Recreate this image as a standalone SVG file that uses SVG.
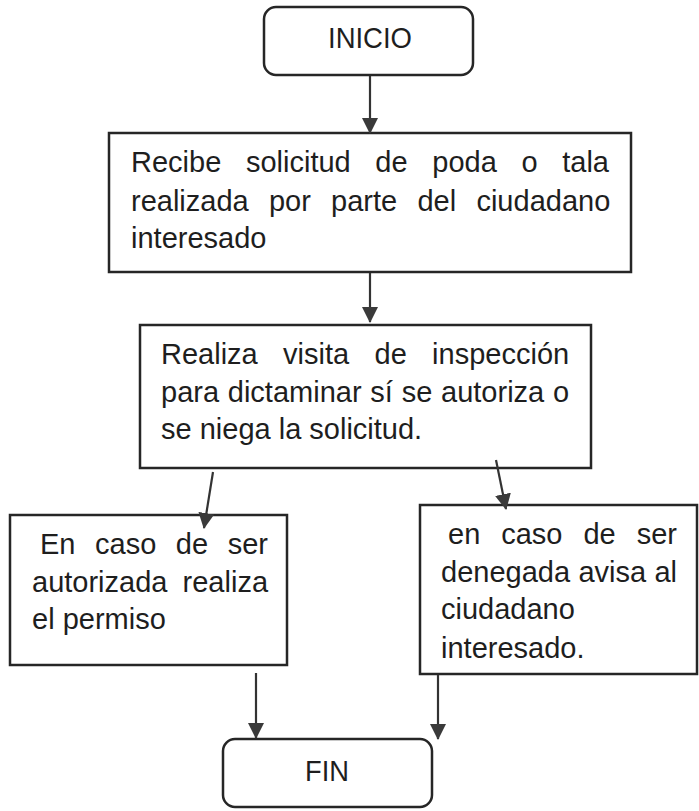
<svg xmlns="http://www.w3.org/2000/svg" width="699" height="811" viewBox="0 0 699 811">
<defs>
<marker id="arr" markerUnits="userSpaceOnUse" markerWidth="16" markerHeight="16" viewBox="0 0 16 16" refX="15" refY="8" orient="auto">
<path d="M0,0 L16,8 L0,16 Z" fill="#3a3a3a"/>
</marker>
<style>
.box{fill:#fff;stroke:#262626;stroke-width:2.5}
.t{font-family:"Liberation Sans",Arial,sans-serif;font-size:29px;fill:#1e1e1e}
.c{stroke:#333;stroke-width:2.2;fill:none;marker-end:url(#arr)}
</style>
</defs>
<rect width="699" height="811" fill="#fff"/>
<g id="inicio">
<rect class="box" x="264" y="7" width="209" height="68" rx="12"/>
<text class="t" x="370" y="48" text-anchor="middle" textLength="84" lengthAdjust="spacingAndGlyphs">INICIO</text>
</g>
<g id="recibe">
<rect class="box" x="109" y="133" width="522" height="139"/>
<text class="t" x="131" y="172" word-spacing="16.6">Recibe solicitud de poda o tala</text>
<text class="t" x="131" y="211" word-spacing="12.2">realizada por parte del ciudadano</text>
<text class="t" x="131" y="248">interesado</text>
</g>
<g id="visita">
<rect class="box" x="140" y="325" width="451" height="143"/>
<text class="t" x="161" y="364" word-spacing="17.3">Realiza visita de inspección</text>
<text class="t" x="161" y="402" word-spacing="0.7">para dictaminar sí se autoriza o</text>
<text class="t" x="161" y="439">se niega la solicitud.</text>
</g>
<g id="autorizada">
<rect class="box" x="10" y="515" width="277" height="150"/>
<text class="t" x="40" y="554" word-spacing="11.5">En caso de ser</text>
<text class="t" x="32" y="592" word-spacing="7.1">autorizada realiza</text>
<text class="t" x="32" y="629">el permiso</text>
</g>
<g id="denegada">
<rect class="box" x="420" y="505" width="277" height="169"/>
<text class="t" x="448" y="544" word-spacing="12.9">en caso de ser</text>
<text class="t" x="441" y="582" word-spacing="0.3">denegada avisa al</text>
<text class="t" x="441" y="619">ciudadano</text>
<text class="t" x="441" y="658">interesado.</text>
</g>
<g id="fin">
<rect class="box" x="223" y="739" width="209" height="68" rx="12"/>
<text class="t" x="327" y="781" text-anchor="middle" textLength="44" lengthAdjust="spacingAndGlyphs">FIN</text>
</g>
<g id="connectors">
<line class="c" x1="370" y1="76" x2="370" y2="133"/>
<line class="c" x1="370" y1="273" x2="370" y2="322"/>
<line class="c" x1="213" y1="472" x2="204" y2="528"/>
<line class="c" x1="496" y1="460" x2="506" y2="509"/>
<line class="c" x1="256" y1="673" x2="256" y2="738"/>
<line class="c" x1="438" y1="675" x2="438" y2="739"/>
</g>
</svg>
